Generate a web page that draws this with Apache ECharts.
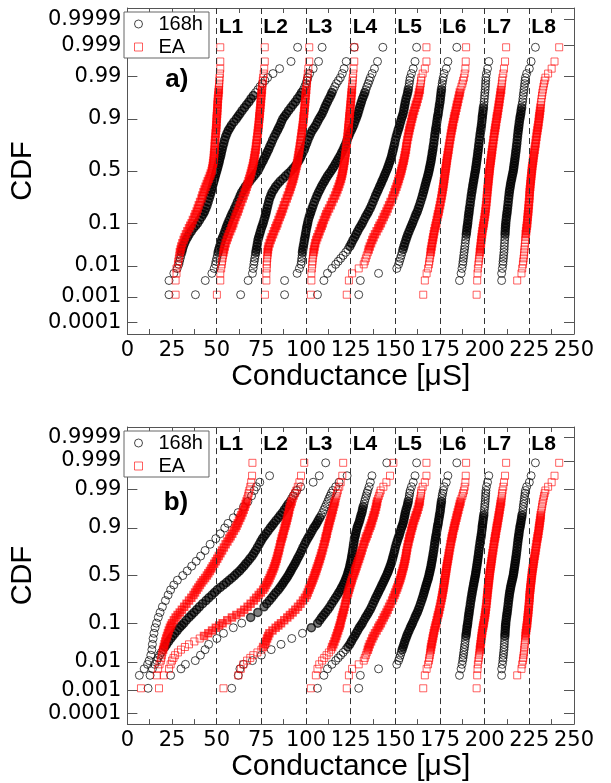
<!DOCTYPE html>
<html>
<head>
<meta charset="utf-8">
<script src="https://cdn.jsdelivr.net/npm/echarts@6.0.0/dist/echarts.min.js"></script>
<style>
html,body{margin:0;padding:0;background:#ffffff;}
#chart{width:611px;height:783px;}
</style>
</head>
<body>
<div id="chart"></div>
<script>
// ---------------- data ----------------
// cumulative probability levels (plotting positions) shared by every curve
const cdfLevels = [0.0012,0.0036,0.006,0.0084,0.011,0.0133,0.016,0.0192,0.023,0.0272,0.032,0.038,0.045,0.052,0.06,0.0694,0.08,0.0896,0.1,0.1143,0.13,0.1446,0.16,0.1793,0.2,0.2243,0.25,0.2746,0.3,0.3247,0.35,0.3749,0.4,0.4247,0.45,0.4749,0.5,0.5251,0.55,0.5753,0.6,0.6251,0.65,0.6753,0.7,0.7254,0.75,0.7757,0.8,0.8207,0.84,0.8554,0.87,0.8857,0.9,0.9104,0.92,0.9306,0.94,0.948,0.955,0.962,0.968,0.9728,0.977,0.9808,0.984,0.9867,0.989,0.9916,0.994,0.9964,0.9988];
const yTickProbs  = [0.0001,0.001,0.01,0.1,0.5,0.9,0.99,0.999,0.9999];
const yTickLabels = ['0.0001','0.001','0.01','0.1','0.5','0.9','0.99','0.999','0.9999'];
const xMin = 0, xMax = 250, xStep = 25;
const laneLines = [50,75,100,125,150,175,200,225];
const laneNames = ['L1','L2','L3','L4','L5','L6','L7','L8'];
const seriesNames = ['168h','EA'];
const panelTags = ['a)','b)'];
// approximate number of measurements behind each curve (lanes L1..L8)
const a_count_168h = [415,415,415,415,415,415,200,200];
const a_count_EA   = [415,415,415,415,415,415,415,200];
const b_count_168h = [60,415,200,300,415,415,200,200];
const b_count_EA   = [415,415,415,415,415,415,415,200];

// conductance [uS] at each cdf level (null = no point at that level)
// ---- panel a ----
const a_168h_L1 = [23.3,23.3,26,27.9,28.8,29.2,29.6,30,30.4,30.8,31.3,32,32.8,33.7,34.6,35.8,37,38.2,39.3,40.4,41.5,42.4,43.2,43.9,44.6,45.2,45.8,46.3,46.8,47.2,47.6,48,48.4,48.8,49.2,49.6,50,50.4,50.8,51.2,51.5,51.9,52.3,52.6,53,53.4,53.9,54.4,55,55.7,56.5,57.4,58.3,59.6,61,62,63,64.2,65.5,66.7,68,69.2,70.5,71.7,73,74.2,75.5,77,78.5,81.5,85.2,91.6,95.3];
const a_EA_L1   = [27,27,27.5,27.5,28.3,28.5,28.8,29.1,29.4,29.8,30.2,30.8,31.5,32.1,32.8,33.6,34.5,35.2,36,36.7,37.5,38.1,38.8,39.4,40,40.7,41.5,42,42.6,43.2,43.8,44.4,45,45.6,46.2,46.7,47.2,47.5,47.8,48,48.2,48.4,48.5,48.6,48.8,48.9,49,49.1,49.3,49.4,49.6,49.7,49.8,49.9,50,50.1,50.2,50.3,50.4,50.5,50.6,50.7,50.9,51,51.2,51.3,51.4,51.5,51.6,51.8,52,52,52];
const a_168h_L2 = [38.1,43.6,47.3,48.6,49.3,49.6,50,50.4,50.8,51.2,51.7,52.2,52.7,53.3,54,54.6,55.2,55.7,56.3,57,57.8,58.5,59.2,60,60.8,61.6,62.5,63.2,64,65,66,67.2,68.5,69.6,70.8,71.9,73,73.7,74.5,75.2,76,76.7,77.5,78.2,79,79.7,80.5,81.3,82.2,83.1,84,84.7,85.5,86.2,87,88,89,90.2,91.5,92.7,94,95.2,96.5,97.5,98.5,99.3,100,100.5,101,102,104,107,109];
const a_EA_L2   = [50.1,52,52,52.5,52.8,53,53.3,53.5,53.8,54.1,54.5,55,55.6,56.2,56.8,57.5,58.2,58.7,59.3,59.9,60.5,61.1,61.8,62.4,63,63.7,64.5,65.1,65.8,66.3,66.8,67.3,67.8,68.2,68.7,69.1,69.5,69.8,70.2,70.5,70.8,71,71.3,71.5,71.8,72,72.2,72.4,72.7,72.9,73.1,73.3,73.5,73.6,73.8,73.9,74.1,74.2,74.4,74.5,74.7,74.8,75,75.1,75.3,75.5,75.7,75.8,76,76.3,76.6,76.9,76.9];
const a_168h_L3 = [63.4,67.6,70,70.4,70.8,71,71.3,71.6,71.9,72.2,72.5,72.8,73.1,73.5,74,74.5,75,75.5,76,76.5,77,77.4,77.8,78.2,78.6,79.1,79.6,80.3,81,82,83,84.2,85.5,87,88.5,90,91.5,92.8,94,95,96,96.8,97.5,98.2,99,99.6,100.3,101,101.8,102.6,103.5,104.5,105.5,106.4,107.3,108.2,109,109.8,110.5,111.2,112,112.9,113.8,114.5,115.3,116.1,117,118.1,119.2,120.3,121.3,122.5,127];
const a_EA_L3   = [77,77.8,77.8,78,78,78.1,78.3,78.4,78.5,78.7,79,79.6,80.2,80.8,81.5,82.1,82.8,83.4,84,84.6,85.3,85.9,86.5,87.1,87.7,88.4,89.2,89.8,90.5,91,91.5,92,92.5,92.9,93.3,93.6,94,94.3,94.7,95,95.3,95.5,95.8,96,96.3,96.5,96.8,97,97.3,97.5,97.8,98,98.2,98.4,98.6,98.7,98.9,99,99.2,99.3,99.5,99.6,99.8,99.9,100.1,100.3,100.5,100.6,100.8,101,101.3,101.8,101.8];
const a_168h_L4 = [88,88,95,96.3,97.2,97.4,97.6,97.8,98,98.2,98.5,98.8,99.1,99.4,99.7,100,100.3,100.6,100.9,101.3,101.8,102.3,102.8,103.4,104,104.7,105.5,106.2,107,107.8,108.6,109.4,110.3,111.1,112,113,114,114.9,115.8,116.6,117.5,118.3,119.2,120,120.8,121.5,122.3,123,123.8,124.5,125.3,126,126.7,127.3,128,128.5,129,129.5,130,130.5,131,131.6,132.3,132.9,133.5,134.1,134.8,135.4,136,137,138.3,140,143];
const a_EA_L4   = [102.7,103,103,103.3,103.5,103.6,103.8,104,104.2,104.5,104.8,105.2,105.7,106.3,107,107.6,108.3,108.8,109.4,110,110.7,111.3,112,112.9,113.8,114.6,115.5,116.3,117,117.6,118.2,118.7,119.2,119.6,120,120.3,120.6,120.8,121.1,121.3,121.6,121.8,122,122.2,122.4,122.6,122.8,123,123.2,123.4,123.6,123.7,123.9,124,124.2,124.3,124.5,124.6,124.8,124.9,125.1,125.2,125.4,125.5,125.7,125.8,126,126.1,126.2,126.4,126.6,127,127];
const a_168h_L5 = [106.4,110,112,114.5,116.6,118,119.4,120.8,122.2,123.4,124.5,125.4,126.3,127.2,128,128.9,129.8,130.7,131.5,132.4,133.3,134.2,135,135.9,136.7,137.5,138.3,139,139.8,140.5,141.2,141.9,142.5,143.2,143.8,144.4,145,145.6,146.1,146.6,147.1,147.6,148,148.4,148.8,149.2,149.6,150,150.5,151,151.5,152,152.4,152.9,153.4,153.9,154.3,154.7,155,155.3,155.6,156,156.5,156.9,157.2,157.5,157.8,158,158.3,159,160,161,161.9];
const a_EA_L5   = [122.8,124,125.8,129.5,132.3,132.9,133.5,134,134.6,135.1,135.7,136.4,137.1,137.8,138.6,139.5,140.4,141.1,141.9,142.7,143.5,144.2,145,145.7,146.5,147.3,148.2,148.8,149.5,150,150.6,151.1,151.6,152,152.5,152.9,153.3,153.6,154,154.3,154.7,155,155.3,155.6,155.9,156.1,156.4,156.7,157.1,157.4,157.8,158.1,158.5,158.9,159.3,159.6,160,160.5,161,161.5,162,162.5,163,163.3,163.7,163.9,164.2,164.4,164.6,165.3,166.5,167.4,167.4];
const a_168h_L6 = [129.5,130.4,140.6,150.8,151.8,152.3,152.8,153.3,153.8,154.3,154.8,155.3,155.9,156.4,157,157.7,158.4,159,159.6,160.3,161,161.6,162.3,162.9,163.5,164.1,164.7,165.2,165.7,166.1,166.5,166.9,167.3,167.7,168.1,168.5,168.8,169.1,169.4,169.7,170,170.2,170.5,170.7,171,171.2,171.5,171.7,172,172.2,172.5,172.7,173,173.2,173.5,173.7,174,174.2,174.5,174.7,175,175.2,175.4,175.6,175.8,176,176.2,176.5,176.8,177.3,178.5,179.4,184.4];
const a_EA_L6   = [165.6,166.5,167.5,168.3,168.8,169,169.3,169.5,169.8,170,170.3,170.6,170.9,171.2,171.5,171.8,172.2,172.5,172.9,173.2,173.6,173.9,174.3,174.6,175,175.3,175.7,176,176.3,176.5,176.8,177,177.2,177.4,177.6,177.8,178,178.2,178.4,178.6,178.8,179,179.3,179.5,179.8,180,180.3,180.6,180.9,181.2,181.5,181.8,182.1,182.4,182.8,183.1,183.4,183.8,184.2,184.5,184.9,185.3,185.7,186.1,186.5,187,187.5,187.9,188.4,188.8,189.2,189.4,189.6];
const a_168h_L7 = [null,185.9,186.8,187.3,187.7,187.9,188.1,188.3,188.5,188.7,188.9,189.1,189.3,189.5,189.7,189.9,190.1,190.3,190.5,190.7,190.9,191.1,191.3,191.5,191.8,192,192.3,192.5,192.8,193,193.3,193.5,193.8,194,194.3,194.5,194.8,195,195.2,195.4,195.6,195.8,196,196.2,196.4,196.6,196.8,197,197.3,197.5,197.8,198,198.2,198.4,198.6,198.7,198.9,199.1,199.3,199.5,199.7,199.8,200,200.1,200.3,200.4,200.5,200.6,200.7,201,201.6,202.3,null];
const a_EA_L7   = [195.5,195.8,196,196.2,196.5,196.7,196.9,197.1,197.3,197.5,197.7,197.9,198.1,198.3,198.5,198.7,199,199.2,199.5,199.7,200,200.2,200.4,200.6,200.8,201,201.2,201.3,201.5,201.6,201.8,201.9,202.1,202.2,202.4,202.5,202.7,202.8,203,203.2,203.4,203.6,203.8,204,204.2,204.4,204.7,204.9,205.2,205.4,205.7,205.9,206.2,206.4,206.7,206.9,207.2,207.4,207.7,207.9,208.2,208.4,208.7,208.9,209.2,209.4,209.6,209.8,210,210.4,210.8,211.4,212];
const a_168h_L8 = [null,209.5,209.5,209.9,210.2,210.3,210.5,210.6,210.8,210.9,211,211.1,211.2,211.3,211.4,211.5,211.6,211.7,211.8,212,212.2,212.4,212.6,212.8,213,213.2,213.4,213.6,213.8,214,214.3,214.5,214.8,215.1,215.4,215.7,216,216.2,216.4,216.6,216.8,217,217.2,217.4,217.6,217.8,218,218.2,218.4,218.6,218.8,219,219.2,219.4,219.7,219.9,220.2,220.4,220.7,220.9,221.2,221.4,221.6,221.8,222,222.2,222.4,222.6,222.8,223.5,225,226,228.4];
const a_EA_L8   = [null,218.2,220.6,221,221.4,221.6,221.8,222,222.1,222.3,222.4,222.6,222.7,222.9,223,223.2,223.4,223.6,223.8,223.9,224.1,224.2,224.4,224.5,224.7,224.8,225,225.1,225.2,225.3,225.5,225.6,225.8,225.9,226.1,226.2,226.4,226.5,226.7,226.9,227.1,227.3,227.5,227.7,228,228.2,228.5,228.7,229,229.2,229.5,229.7,230,230.2,230.4,230.6,230.8,231,231.2,231.4,231.6,231.8,232.1,232.3,232.6,232.9,233.2,233.6,234,235.5,237.5,239.1,241.7];
// ---- panel b ----
const b_168h_L1 = [null,6.7,9.4,11.3,12.2,null,13.1,null,13.7,null,14,null,14.4,null,14.9,null,15.5,null,16.3,null,17.3,null,18.3,null,19.6,null,21.3,null,22.8,null,24.2,null,26,null,28,null,31,null,33.5,null,36,null,38.5,null,41,null,43.5,null,46.3,null,49.5,null,52,null,54.5,null,56.3,null,59.3,null,62,null,65,null,67.5,null,69.5,null,71,72.2,74.1,79.6,null];
const b_EA_L1   = [7.6,16.5,17.2,18,18.7,19,19.3,19.6,20,20.4,20.8,21.2,21.7,22.2,22.7,23.2,23.8,24.4,25,26,27,28.1,29.3,30.5,31.8,33.1,34.5,35.8,37,37.9,38.8,39.7,40.6,41.5,42.5,43.5,44.5,45.3,46.2,47,47.8,48.6,49.5,50.3,51.2,52.1,53,54,55,56,57,57.8,58.7,59.6,60.5,61.1,61.8,62.5,63.2,63.8,64.5,65.1,65.7,66.2,66.7,67.1,67.6,67.9,68.3,68.8,69.3,69.8,70];
const b_168h_L2 = [11.6,12.7,14,15.3,16.5,17.2,18,19,20,21,22,23.1,24.3,25.4,26.6,27.9,29.2,30.4,31.6,33,34.5,35.9,37.3,38.8,40.3,42.1,44,45.6,47.3,48.8,50.3,52,53.8,55.4,57,58.5,60,61.4,62.8,64,65.2,66.3,67.5,68.6,69.8,70.8,71.8,72.8,73.8,74.7,75.6,76.6,77.6,78.8,80,81,82,83.2,84.5,85.6,86.8,87.9,89,90,91,91.9,92.8,93.8,94.8,97,104,107.4,111];
const b_EA_L2   = [17.7,20.4,23.3,24.2,25,25.8,26.7,28.3,30,32.2,34.5,37.5,40.5,42.9,45.3,47.4,49.5,51.4,53.3,55.9,58.5,61,63.5,65.4,67.3,69,70.8,72.1,73.5,74.7,76,76.8,77.6,78.3,79,79.6,80.2,80.7,81.3,81.8,82.3,82.7,83.2,83.6,84,84.4,84.8,85.2,85.6,86,86.4,86.8,87.2,87.6,88,88.4,88.8,89.2,89.6,89.9,90.3,90.6,91,91.5,92,92.6,93.2,93.9,94.6,95.4,96.3,97.2,99];
const b_168h_L3 = [null,24.2,30,32.5,38,null,40.9,null,43.5,null,45.5,null,50.1,null,53.8,null,59.3,null,64,null,69,null,73,null,76.5,78,79.5,80.8,82,83.2,84.5,85.5,86.5,87.4,88.3,89.2,90,90.8,91.5,92.2,93,93.8,94.5,95.2,96,96.8,97.5,98.3,99.2,100,100.9,101.7,102.5,103.4,104.3,105.2,106,106.8,107.7,108.5,109.3,110,110.8,111.5,112.2,112.8,113.5,114.2,115,116.6,118.5,123,null];
const b_EA_L3   = [53.8,62.1,63.5,64.9,67,68.8,70.5,72.8,75,76,77,77.6,78.2,78.8,79.5,81.2,83,84.5,86,87.8,89.5,91,92.5,94,95.5,96.9,98.3,99.4,100.4,101,101.6,102.1,102.7,103.2,103.7,104.2,104.7,105.1,105.6,106,106.5,106.9,107.4,107.8,108.3,108.7,109.2,109.6,110.1,110.5,110.9,111.2,111.6,111.9,112.3,112.6,113,113.4,113.8,114.2,114.6,115,115.4,115.8,116.2,116.6,117,117.4,117.8,118.6,119.4,120.3,120.8];
const b_168h_L4 = [58.4,62.1,63,65,70,null,75,null,80.5,null,86,null,92,null,98,null,103,null,106.5,107.7,108.8,109.9,111,112.2,113.3,114.4,115.5,116.5,117.5,118.4,119.3,120,120.8,121.4,122,122.5,123,123.4,123.8,124.2,124.5,124.8,125.1,125.4,125.6,125.9,126.1,126.4,126.6,126.9,127.1,127.5,127.8,128.2,128.6,129,129.5,130,130.4,130.8,131.3,131.6,132,132.4,132.8,133.2,133.7,134.1,134.6,135.3,136,136.9,145.2];
const b_EA_L4   = [102.7,105.5,106.4,107.4,109,110.2,111.5,112.8,114,114.6,115.3,115.9,116.5,117,117.5,118,118.5,118.9,119.3,119.6,120,120.4,120.8,121.2,121.6,122,122.4,122.8,123.2,123.6,124,124.4,124.8,125.2,125.6,126,126.5,126.9,127.4,127.8,128.3,128.7,129.2,129.7,130.2,130.7,131.2,131.7,132.3,132.8,133.4,133.9,134.5,135,135.6,136.1,136.6,137,137.5,137.9,138.4,138.8,139.2,139.5,139.8,140.3,140.8,141.3,141.8,143.3,145,147,148.9];
// lanes 5-8 look identical in both panels
const b_168h_L5 = a_168h_L5, b_EA_L5 = a_EA_L5;
const b_168h_L6 = a_168h_L6, b_EA_L6 = a_EA_L6;
const b_168h_L7 = a_168h_L7, b_EA_L7 = a_EA_L7;
const b_168h_L8 = a_168h_L8, b_EA_L8 = a_EA_L8;

// ---------------- probit scale ----------------
function probit(p){
  const a=[-3.969683028665376e+01,2.209460984245205e+02,-2.759285104469687e+02,1.383577518672690e+02,-3.066479806614716e+01,2.506628277459239e+00];
  const b=[-5.447609879822406e+01,1.615858368580409e+02,-1.556989798598866e+02,6.680131188771972e+01,-1.328068155288572e+01];
  const c=[-7.784894002430293e-03,-3.223964580411365e-01,-2.400758277161838e+00,-2.549732539343734e+00,4.374664141464968e+00,2.938163982698783e+00];
  const d=[7.784695709041462e-03,3.224671290700398e-01,2.445134137142996e+00,3.754408661907416e+00];
  const pl=0.02425, ph=1-pl;
  let q,r;
  if(p<pl){q=Math.sqrt(-2*Math.log(p));return (((((c[0]*q+c[1])*q+c[2])*q+c[3])*q+c[4])*q+c[5])/((((d[0]*q+d[1])*q+d[2])*q+d[3])*q+1);}
  if(p<=ph){q=p-0.5;r=q*q;return (((((a[0]*r+a[1])*r+a[2])*r+a[3])*r+a[4])*r+a[5])*q/(((((b[0]*r+b[1])*r+b[2])*r+b[3])*r+b[4])*r+1);}
  q=Math.sqrt(-2*Math.log(1-p));return -(((((c[0]*q+c[1])*q+c[2])*q+c[3])*q+c[4])*q+c[5])/((((d[0]*q+d[1])*q+d[2])*q+d[3])*q+1);
}
const zLevels = cdfLevels.map(probit);
const yTickZ = yTickProbs.map(probit);
const GRID_W = 451;
// Points of one curve. Where the original measurements would overlap into a solid band
// (spacing of the real sample under ~2 px) the marks are drawn filled and heavier.
function toPoints(arr, gridH, count, fill){
  if(arr.length!==cdfLevels.length) console.warn('length mismatch', arr.length);
  const pts=[];
  arr.forEach((v,i)=>{ if(v!=null && i<zLevels.length) pts.push([v, zLevels[i], cdfLevels[i]]); });
  const sx = GRID_W/(xMax-xMin), sz = gridH/8;
  const gap=(p,q)=> q ? Math.hypot((p[0]-q[0])*sx,(p[1]-q[1])*sz)/Math.max(1, count*Math.abs(p[2]-q[2])) : 99;
  const dense = pts.map((p,j)=> Math.max(gap(p,pts[j-1]), gap(p,pts[j+1])) < 2);
  // only runs of at least 4 crowded marks become a solid band
  const keep = dense.slice();
  let s = 0;
  for(let j=0;j<=dense.length;j++){
    if(j===dense.length || !dense[j]){
      if(j-s < 4) for(let t=s;t<j;t++) keep[t]=false;
      s = j+1;
    }
  }
  return pts.map((p,j)=> keep[j] ? {value:[p[0],p[1]], itemStyle:{color:fill, borderWidth:1.5}} : {value:[p[0],p[1]]});
}
function yLabel(v){
  let best=0;
  for(let i=1;i<yTickZ.length;i++){ if(Math.abs(yTickZ[i]-v)<Math.abs(yTickZ[best]-v)) best=i; }
  return yTickLabels[best];
}

// ---------------- chart ----------------
const FONT_TICK = 'DejaVu Sans';
const FONT_TEXT = 'Liberation Sans, Arial, sans-serif';
const AX = '#555';
const circleStyle = {color:'rgba(0,0,0,0)', borderColor:'rgba(0,0,0,0.72)', borderWidth:1, opacity:1};
const squareStyle = {color:'rgba(0,0,0,0)', borderColor:'rgba(255,0,0,0.62)', borderWidth:1, opacity:1};
const circleFill = 'rgba(0,0,0,0.5)';
const squareFill = 'rgba(255,0,0,0.48)';

const panels = [
  {top:8, height:326, nameGap:25, legendTop:12, tagAt:[27.7,2.23], laneZ:3.52,
   black:[a_168h_L1,a_168h_L2,a_168h_L3,a_168h_L4,a_168h_L5,a_168h_L6,a_168h_L7,a_168h_L8],
   red:[a_EA_L1,a_EA_L2,a_EA_L3,a_EA_L4,a_EA_L5,a_EA_L6,a_EA_L7,a_EA_L8],
   nBlack:a_count_168h, nRed:a_count_EA},
  {top:427, height:302, nameGap:20, legendTop:431, tagAt:[27.2,1.96], laneZ:3.53,
   black:[b_168h_L1,b_168h_L2,b_168h_L3,b_168h_L4,b_168h_L5,b_168h_L6,b_168h_L7,b_168h_L8],
   red:[b_EA_L1,b_EA_L2,b_EA_L3,b_EA_L4,b_EA_L5,b_EA_L6,b_EA_L7,b_EA_L8],
   nBlack:b_count_168h, nRed:b_count_EA}
];

const option = {animation:false, backgroundColor:'#ffffff', grid:[], xAxis:[], yAxis:[], legend:[], series:[]};

panels.forEach((P,k)=>{
  option.grid.push({left:123, top:P.top, width:GRID_W, height:P.height});
  const axisLine = {show:true, onZero:false, lineStyle:{color:AX, width:1}};
  const xBase = {type:'value', gridIndex:k, min:xMin, max:xMax, interval:xStep, splitLine:{show:false},
    axisLine:axisLine, axisTick:{show:true, inside:true, length:5, lineStyle:{color:AX}},
    minorTick:{show:true, splitNumber:2, length:5, lineStyle:{color:AX}}, minorSplitLine:{show:false}};
  option.xAxis.push(Object.assign({}, xBase, {position:'bottom',
    name:'Conductance [\u03bcS]', nameLocation:'middle', nameGap:P.nameGap,
    nameTextStyle:{fontSize:30, fontFamily:FONT_TEXT, color:'#000'},
    axisLabel:{show:true, fontSize:21, fontFamily:FONT_TICK, color:'#000', margin:6}}));
  option.xAxis.push(Object.assign({}, xBase, {position:'top', axisLabel:{show:false}}));
  const yBase = {type:'value', gridIndex:k, min:-4, max:4, splitLine:{show:false}, axisLine:axisLine,
    axisTick:{show:true, inside:true, length:10, customValues:yTickZ, lineStyle:{color:AX}}};
  option.yAxis.push(Object.assign({}, yBase, {position:'left',
    name:'CDF', nameLocation:'middle', nameGap:78, nameRotate:90,
    nameTextStyle:{fontSize:29, fontFamily:FONT_TEXT, color:'#000'},
    axisLabel:{show:true, customValues:yTickZ, formatter:yLabel, fontSize:21, fontFamily:FONT_TICK, color:'#000', margin:6}}));
  option.yAxis.push(Object.assign({}, yBase, {position:'right', axisLabel:{show:false}}));

  option.legend.push({show:true, left:124, top:P.legendTop, orient:'vertical', itemWidth:8, itemHeight:8, itemGap:1,
    padding:[1,6,0,10], borderColor:'#666', borderWidth:1, backgroundColor:'#fff', selectedMode:false,
    textStyle:{fontSize:20, fontFamily:FONT_TEXT, color:'#000', padding:[0,0,0,11], lineHeight:22},
    data:[{name:seriesNames[0], icon:'circle', itemStyle:circleStyle},
          {name:seriesNames[1], icon:'rect', itemStyle:squareStyle}]});

  P.black.forEach((arr,i)=>option.series.push({type:'scatter', name:seriesNames[0], xAxisIndex:2*k, yAxisIndex:2*k,
    data:toPoints(arr,P.height,P.nBlack[i],circleFill), symbol:'circle', symbolSize:8, itemStyle:circleStyle, silent:true, z:2}));
  P.red.forEach((arr,i)=>option.series.push({type:'scatter', name:seriesNames[1], xAxisIndex:2*k, yAxisIndex:2*k,
    data:toPoints(arr,P.height,P.nRed[i],squareFill), symbol:'rect', symbolSize:7, itemStyle:squareStyle, silent:true, z:3}));

  const notes = laneLines.map((v,i)=>({value:[v,P.laneZ],
    label:{show:true, formatter:laneNames[i], position:'right', distance:2, fontSize:21, fontWeight:'bold', fontFamily:FONT_TEXT, color:'#000'}}));
  notes.push({value:P.tagAt, label:{show:true, formatter:panelTags[k], position:'inside', fontSize:26, fontWeight:'bold', fontFamily:FONT_TEXT, color:'#000'}});
  option.series.push({type:'scatter', name:'notes', xAxisIndex:2*k, yAxisIndex:2*k, symbolSize:0, silent:true, z:5,
    itemStyle:{opacity:1}, data:notes,
    markLine:{silent:true, symbol:['none','none'], label:{show:false}, animation:false,
      lineStyle:{type:[6,4], color:'#333', width:1}, data:laneLines.map(v=>({xAxis:v}))}});
});

const chart = echarts.init(document.getElementById('chart'), null, {renderer:'canvas'});
chart.setOption(option);
</script>
</body>
</html>
